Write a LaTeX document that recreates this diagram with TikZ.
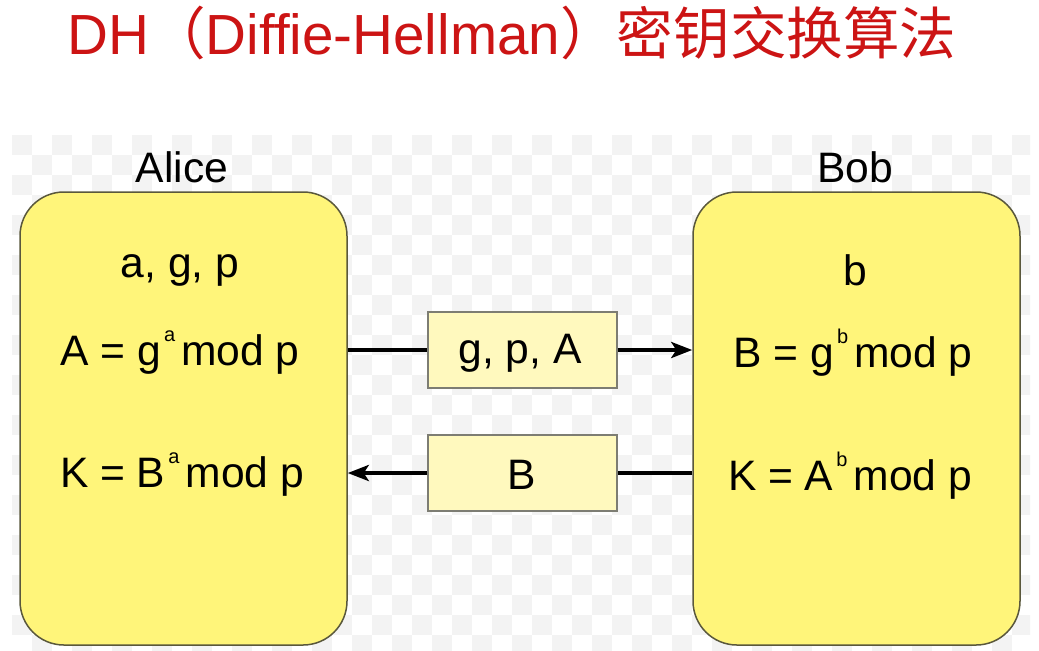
\documentclass[tikz,border=0pt]{standalone}
\usepackage{fontspec}
\setmainfont{Liberation Sans}
\newfontfamily\cjk{Noto Sans CJK SC}
\usetikzlibrary{arrows.meta}
\definecolor{titlered}{RGB}{204,20,20}
\definecolor{bigfill}{RGB}{255,245,122}
\definecolor{bigline}{RGB}{90,88,60}
\definecolor{msgfill}{RGB}{255,249,190}
\definecolor{msgline}{RGB}{125,125,115}
\definecolor{checker}{RGB}{243,243,243}
\newcommand{\sps}[1]{\hspace{1.5pt}\raisebox{12pt}{\fontsize{10}{10}\selectfont #1}\hspace{3pt}}
\begin{document}
\begin{tikzpicture}[x=0.5pt,y=-0.5pt,
  txt/.style={inner sep=0pt,anchor=base,font=\fontsize{21.3}{24}\selectfont},
  bigbox/.style={draw=bigline,line width=0.75pt,fill=bigfill,rounded corners=22pt,
     minimum width=163.5pt,minimum height=226.5pt,inner sep=0pt},
  msgbox/.style={draw=msgline,line width=0.6pt,fill=msgfill,
     minimum width=94.5pt,minimum height=38pt,inner sep=0pt},
  conn/.style={line width=2pt,black},
  arr/.style={conn,-{Stealth[length=10.5pt,width=8pt,inset=2.5pt]}}]
\useasboundingbox (0,0) rectangle (1039,650);
\fill[white] (0,0) rectangle (1039,650);
% checkered background
\begin{scope}
\clip (12,135) rectangle (1030,650);
\foreach \i in {0,...,50}{\foreach \j in {0,...,25}{%
  \pgfmathtruncatemacro\k{mod(\i+\j,2)}%
  \ifnum\k=0 \fill[checker] ({12+20*\i},{135+20*\j}) rectangle ++(20,20);\fi}}
\end{scope}
% title
\node[inner sep=0pt,anchor=base,text=titlered,font=\fontsize{28.3}{30}\selectfont] (title) at (512,54)
  {DH{\cjk（}Diffie-Hellman{\cjk）密钥交换算法}};
% party boxes
\node[bigbox] (alice) at (183.5,418.5) {};
\node[bigbox] (bob) at (856.5,418.5) {};
\node[txt] (alicelbl) at (182,182) {Alice};
\node[txt] (boblbl) at (855,182) {Bob};
% Alice texts
\node[txt] (apriv) at (180,277) {a, g, p};
\node[txt] (acalc) at (180,365) {A = g\sps{a}mod p};
\node[txt] (akey) at (182,487) {K = B\sps{a}mod p};
% Bob texts
\node[txt] (bpriv) at (855,285) {b};
\node[txt] (bcalc) at (853,367) {B = g\sps{b}mod p};
\node[txt] (bkey) at (850,490) {K = A\sps{b}mod p};
% messages
\node[msgbox] (m1) at (522.5,350) {};
\node[txt] (m1t) at (520,363) {g, p, A};
\node[msgbox] (m2) at (522.5,473) {};
\node[txt] (m2t) at (522,489) {B};
% connectors
\draw[conn] (alice.east |- m1.west) -- (m1.west);
\draw[arr] (m1.east) -- (bob.west |- m1.east);
\draw[conn] (bob.west |- m2.east) -- (m2.east);
\draw[arr] (m2.west) -- (alice.east |- m2.west);
\end{tikzpicture}
\end{document}
